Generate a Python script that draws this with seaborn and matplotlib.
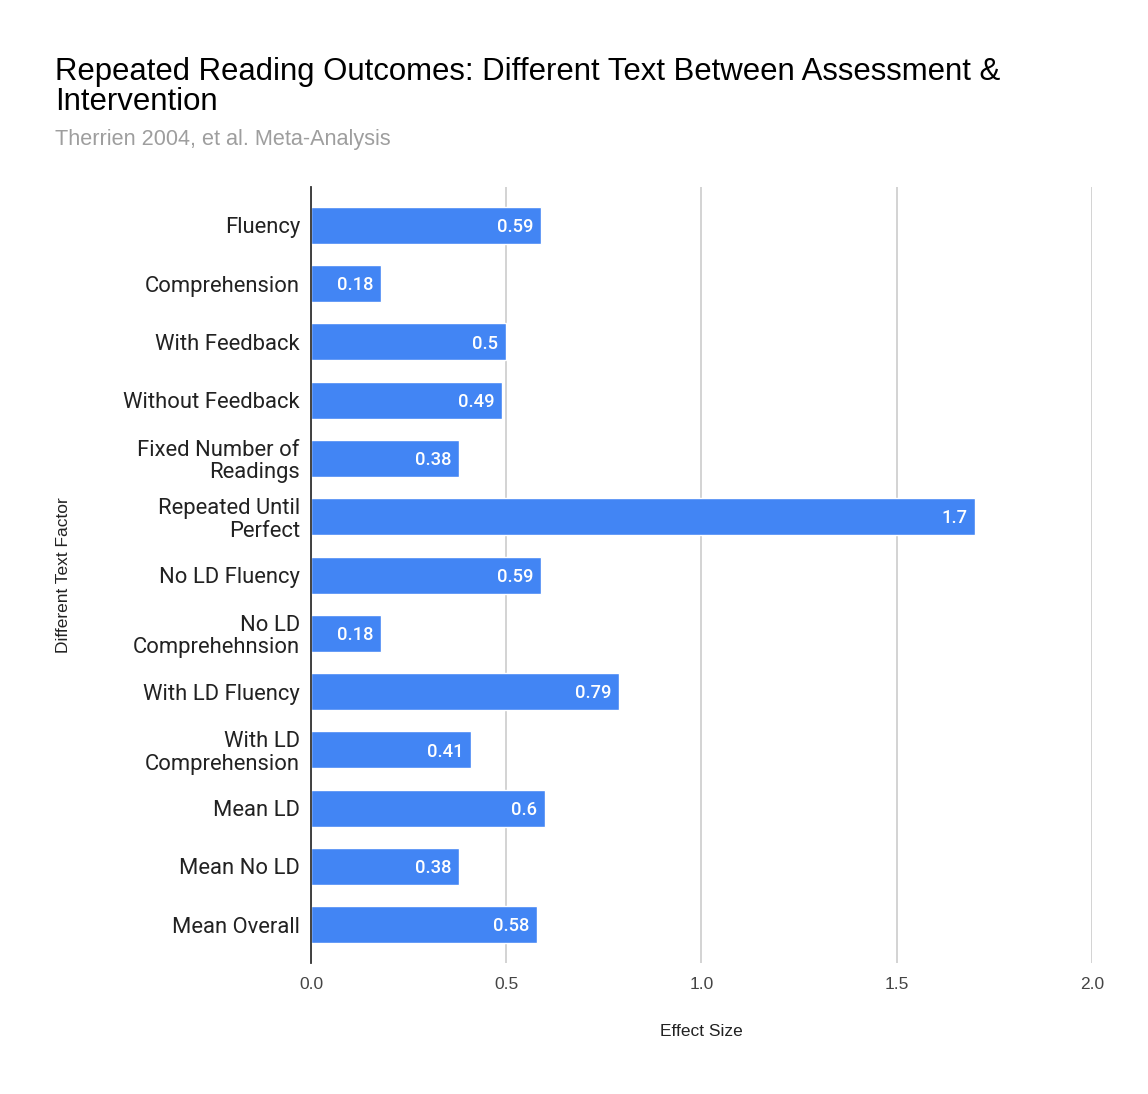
import pandas as pd
import matplotlib.pyplot as plt
import seaborn as sns

factors = [
    "Fluency", "Comprehension", "With Feedback", "Without Feedback",
    "Fixed Number of\nReadings", "Repeated Until\nPerfect", "No LD Fluency",
    "No LD\nComprehehnsion", "With LD Fluency", "With LD\nComprehension",
    "Mean LD", "Mean No LD", "Mean Overall",
]
effect_sizes = [0.59, 0.18, 0.5, 0.49, 0.38, 1.7, 0.59, 0.18, 0.79, 0.41, 0.6, 0.38, 0.58]
value_labels = ["0.59", "0.18", "0.5", "0.49", "0.38", "1.7", "0.59", "0.18", "0.79", "0.41", "0.6", "0.38", "0.58"]
x_ticks = [0.0, 0.5, 1.0, 1.5, 2.0]

df = pd.DataFrame({"factor": factors, "effect": effect_sizes})

sns.set_theme(style="white")
plt.rcParams['font.family'] = ['Liberation Sans', 'DejaVu Sans']

fig = plt.figure(figsize=(11.48, 10.94), dpi=100)
ax = fig.add_axes([0.2709, 0.1197, 0.6803, 0.7094])

sns.barplot(data=df, x="effect", y="factor", color="#4285F4", saturation=1,
            width=0.635, ax=ax, zorder=3)

for i, (v, lab) in enumerate(zip(effect_sizes, value_labels)):
    ax.text(v - 0.02, i + 0.03, lab, ha="right", va="center", color="white",
            fontsize=13.2, family=["Roboto", "DejaVu Sans"], fontweight="medium", zorder=4)

ax.set_xlim(0, 2.0)
ax.set_ylim(12.66, -0.66)
ax.set_xticks(x_ticks)
ax.set_xticklabels([f"{t:.1f}" for t in x_ticks], fontsize=12.5, color="#444444")
ax.tick_params(axis="x", length=0, pad=10)
ax.tick_params(axis="y", length=0, pad=8)
for lab in ax.get_yticklabels():
    lab.set_fontsize(15.8)
    lab.set_family(["Roboto", "DejaVu Sans"])
    lab.set_color("#222222")
    lab.set_linespacing(1.08)

ax.grid(axis="x", color="#cccccc", linewidth=1.2, zorder=0)
ax.grid(axis="y", visible=False)
for s in ["top", "right", "bottom"]:
    ax.spines[s].set_visible(False)
ax.spines["left"].set_color("#333333")
ax.spines["left"].set_linewidth(1.3)
ax.spines["left"].set_zorder(5)

ax.set_xlabel("Effect Size", fontsize=12.5, color="#222222", labelpad=23)
ax.set_ylabel("Different Text Factor", fontsize=12.5, color="#222222")
ax.yaxis.set_label_coords(-0.307, 0.5)

fig.text(55 / 1148, 1 - 72 / 1094, "Repeated Reading Outcomes: Different Text Between Assessment &",
         fontsize=22.4, color="#000000", va="center", ha="left")
fig.text(55 / 1148, 1 - 102 / 1094, "Intervention",
         fontsize=22.4, color="#000000", va="center", ha="left")
fig.text(55 / 1148, 1 - 140 / 1094, "Therrien 2004, et al. Meta-Analysis",
         fontsize=15.6, color="#9e9e9e", va="center", ha="left")

fig.savefig("out.png", dpi=100, facecolor="white")
